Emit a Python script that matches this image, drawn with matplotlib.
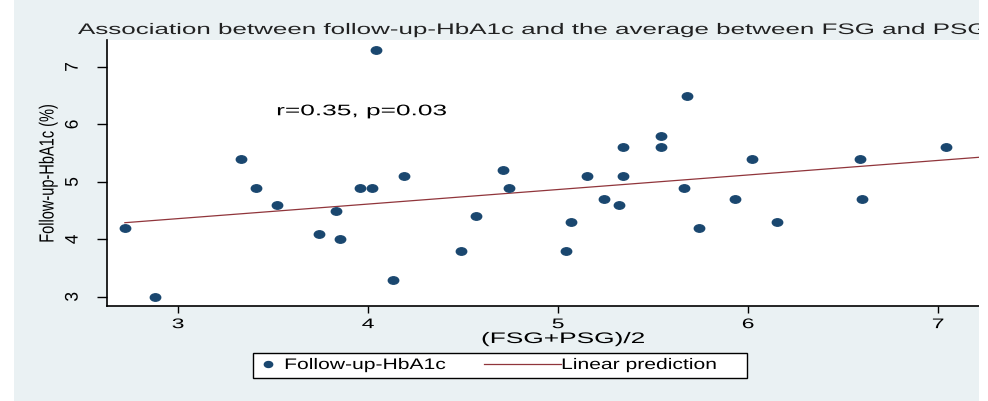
import numpy as np
import matplotlib
matplotlib.use('Agg')
from matplotlib import pyplot as plt
from matplotlib.path import Path
from matplotlib.lines import Line2D
from matplotlib.patches import Rectangle
from matplotlib.transforms import Affine2D
from matplotlib.patheffects import AbstractPathEffect
from matplotlib.legend_handler import HandlerLine2D

# (FSG+PSG)/2 and follow-up HbA1c
fsg_psg_avg = [2.72, 2.88, 3.33, 3.41, 3.52, 3.74, 3.83, 3.85, 3.96, 4.02,
               4.04, 4.13, 4.19, 4.49, 4.57, 4.71, 4.74, 5.04, 5.07, 5.15,
               5.24, 5.32, 5.34, 5.34, 5.54, 5.54, 5.66, 5.68, 5.74, 5.93,
               6.02, 6.15, 6.59, 6.60, 7.04]
hba1c_followup = [4.2, 3.0, 5.4, 4.9, 4.6, 4.1, 4.5, 4.0, 4.9, 4.9,
                  7.3, 3.3, 5.1, 3.8, 4.4, 5.2, 4.9, 3.8, 4.3, 5.1,
                  4.7, 4.6, 5.6, 5.1, 5.8, 5.6, 4.9, 6.5, 4.2, 4.7,
                  5.4, 4.3, 5.4, 4.7, 5.6]
# linear prediction, two ends of the fitted line
fit_x = [2.72, 7.30]
fit_y = [4.29, 5.45]

x_ticks = [3, 4, 5, 6, 7]
y_ticks = [3, 4, 5, 6, 7]

title = 'Association between follow-up-HbA1c and the average between FSG and PSG'
stats_text = 'r=0.35, p=0.03'
legend_labels = ['Follow-up-HbA1c', 'Linear prediction']

bg = '#eaf1f3'
navy = '#1a476f'
maroon = '#90353b'

plt.rcParams['font.family'] = ['Liberation Sans', 'DejaVu Sans']


################################################################################
### the source picture is stretched sideways, so stretch the text the same way
################################################################################
class Stretch(AbstractPathEffect):
    def __init__(self, sx, anchor='center'):
        super().__init__()
        self.sx = sx
        self.anchor = anchor

    def draw_path(self, renderer, gc, tpath, affine, rgbFace=None):
        ext = tpath.get_extents(affine)
        if self.anchor == 'left':
            x0 = ext.x0
        elif self.anchor == 'right':
            x0 = ext.x1
        else:
            x0 = 0.5 * (ext.x0 + ext.x1)
        tr = affine + Affine2D().translate(-x0, 0).scale(self.sx, 1).translate(x0, 0)
        renderer.draw_path(gc, tpath, tr, rgbFace)


# legend line that reaches back into the column gap, Stata style
class LongLine(HandlerLine2D):
    def get_xdata(self, legend, xdescent, ydescent, width, height, fontsize):
        xd = np.array([-xdescent - 3.45 * fontsize, -xdescent + width + 0.55 * fontsize])
        return xd, xd[:1]


fig = plt.figure(figsize=(9.88, 4.01), dpi=100)
fig.patch.set_facecolor(bg)
# white strips at the edges (the picture is a crop)
fig.patches.append(Rectangle((0, 0), 14 / 988, 1, transform=fig.transFigure,
                             facecolor='white', edgecolor='none', zorder=10))
fig.patches.append(Rectangle((979 / 988, 0), 9 / 988, 1, transform=fig.transFigure,
                             facecolor='white', edgecolor='none', zorder=10))

ax = fig.add_axes([107 / 988, 1 - 306 / 401, 872 / 988, 266 / 401])
ax.set_facecolor('white')

# slightly wide dot, as in the picture
ell = Path.unit_circle().transformed(Affine2D().scale(1.4, 1.0))

ax.plot(fsg_psg_avg, hba1c_followup, linestyle='none', marker=ell,
        markersize=7.5, color=navy, zorder=3)
ax.plot(fit_x, fit_y, color=maroon, linewidth=0.9, zorder=2)

ax.set_xlim(2.626, 7.215)
ax.set_ylim(2.84, 7.47)
ax.set_xticks(x_ticks)
ax.set_yticks(y_ticks)
ax.tick_params(axis='x', length=5, width=1, labelsize=10, pad=3)
ax.tick_params(axis='y', length=7, width=1, labelsize=12.5, pad=12, labelrotation=90)
for lab in ax.get_xticklabels():
    lab.set_path_effects([Stretch(1.65, 'center')])
for lab in ax.get_yticklabels():
    lab.set_va('center')
    lab.set_path_effects([Stretch(1.05, 'right')])

for s in ['top', 'right']:
    ax.spines[s].set_visible(False)
ax.spines['left'].set_linewidth(1.2)
ax.spines['bottom'].set_linewidth(1.2)

ax.set_xlabel('(FSG+PSG)/2', fontsize=11)
ax.xaxis.set_label_coords((563 - 107) / 872, -(339 - 306) / 266)
ax.xaxis.label.set_va('center')
ax.xaxis.label.set_path_effects([Stretch(1.72, 'center')])
ax.set_ylabel('Follow-up-HbA1c (%)', fontsize=10.5)
ax.yaxis.set_label_coords(-(107 - 48) / 872, 0.5)
ax.yaxis.label.set_va('center')
ax.yaxis.label.set_path_effects([Stretch(1.4, 'center')])

t = ax.text(3.52, 6.23, stats_text, fontsize=11, va='center', ha='left')
t.set_path_effects([Stretch(1.72, 'left')])

t = fig.text(78 / 988, 1 - 30 / 401, title, fontsize=11, va='center', ha='left',
             color='#222222')
t.set_path_effects([Stretch(1.70, 'left')])

# legend box drawn by hand, legend itself frameless
fig.patches.append(Rectangle((253 / 988, 1 - 378 / 401), 494 / 988, 25 / 401,
                             transform=fig.transFigure, facecolor='white',
                             edgecolor='black', linewidth=1.0, zorder=1))
dot = Line2D([], [], linestyle='none', marker=ell, markersize=6, color=navy)
fit_line = Line2D([], [], color=maroon, linewidth=0.9)
leg = fig.legend([dot, fit_line], legend_labels,
                 loc='center left', bbox_to_anchor=(260 / 988, 1 - 365 / 401),
                 ncol=2, fontsize=11, frameon=False,
                 handlelength=1.0, handletextpad=0.61, columnspacing=8.9,
                 borderpad=0, borderaxespad=0,
                 handler_map={fit_line: LongLine()})
for lt in leg.get_texts():
    lt.set_path_effects([Stretch(1.38, 'left')])

fig.savefig('out.png', dpi=100, facecolor=fig.get_facecolor())
